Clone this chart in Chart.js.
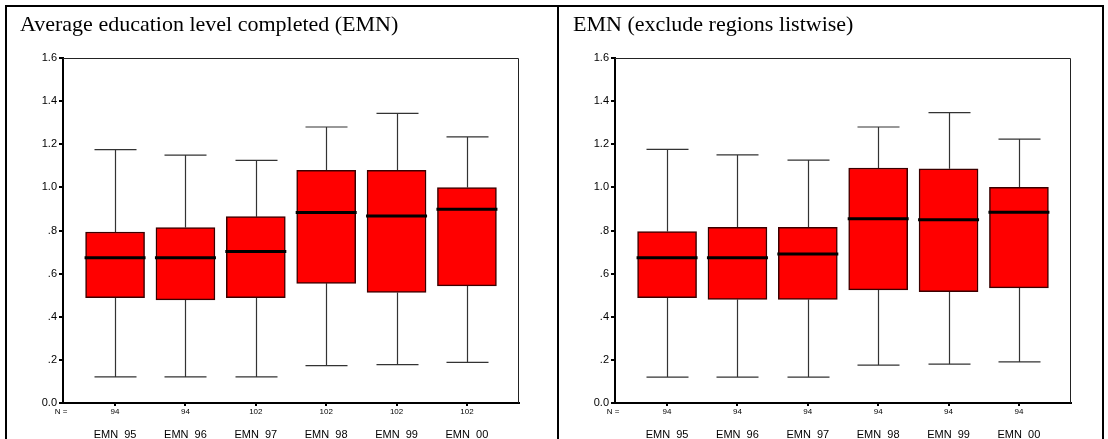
<!DOCTYPE html>
<html lang="en">
<head>
<meta charset="UTF-8">
<title>EMN boxplots</title>
<script src="https://cdn.jsdelivr.net/npm/chart.js"></script>
<style>
  html, body { margin: 0; padding: 0; background: #fff; overflow: hidden; }
  body { width: 1108px; height: 439px; position: relative; }
  .panel { position: absolute; top: 0; height: 439px; }
  .panel canvas { position: absolute; left: 0; top: 0; }
  .title { position: absolute; top: 13px; font: 22px "Liberation Serif", "Times New Roman", serif; line-height: 22px; color: #000; white-space: nowrap; }
  .rule { position: absolute; background: #000; }
</style>
</head>
<body>

<!-- two panels side by side, like the table cells in the original -->
<div class="panel" style="left:0; width:557px;"><canvas id="chartAll" width="557" height="439"></canvas></div>
<div class="panel" style="left:552px; width:556px;"><canvas id="chartListwise" width="556" height="439"></canvas></div>

<div class="title" style="left:20px;">Average education level completed (EMN)</div>
<div class="title" style="left:573px;">EMN (exclude regions listwise)</div>

<!-- table borders -->
<div class="rule" style="left:5px; top:5px; width:1098px; height:2px;"></div>
<div class="rule" style="left:5px; top:5px; width:2px; height:434px;"></div>
<div class="rule" style="left:557px; top:5px; width:2px; height:434px;"></div>
<div class="rule" style="left:1102px; top:5px; width:2px; height:434px;"></div>

<script>
// categories and tick labels
const categories = ['EMN_95', 'EMN_96', 'EMN_97', 'EMN_98', 'EMN_99', 'EMN_00'];
const yTicks = [0, 0.2, 0.4, 0.6, 0.8, 1.0, 1.2, 1.4, 1.6];
const yTickLabels = ['0.0', '.2', '.4', '.6', '.8', '1.0', '1.2', '1.4', '1.6'];

// left panel: all regions
const allN      = [94, 94, 102, 102, 102, 102];
const allMin    = [0.121, 0.121, 0.121, 0.173, 0.178, 0.188];
const allQ1     = [0.488, 0.478, 0.488, 0.555, 0.513, 0.543];
const allMedian = [0.674, 0.674, 0.703, 0.884, 0.867, 0.898];
const allQ3     = [0.793, 0.814, 0.864, 1.079, 1.079, 0.999];
const allMax    = [1.175, 1.150, 1.125, 1.280, 1.343, 1.234];

// right panel: regions excluded listwise
const lwN      = [94, 94, 94, 94, 94, 94];
const lwMin    = [0.120, 0.120, 0.120, 0.176, 0.180, 0.191];
const lwQ1     = [0.489, 0.480, 0.480, 0.525, 0.516, 0.534];
const lwMedian = [0.674, 0.674, 0.691, 0.855, 0.850, 0.885];
const lwQ3     = [0.795, 0.815, 0.815, 1.090, 1.086, 1.000];
const lwMax    = [1.176, 1.151, 1.126, 1.280, 1.347, 1.224];

const sans = '"Liberation Sans", Arial, sans-serif';

// whiskers, medians, plot frame and the "N =" label
function boxExtras(mins, medians, maxs, q1s, q3s) {
    return {
        id: 'boxExtras',
        beforeDatasetsDraw(chart) {
            const { ctx, chartArea: a, scales: { x, y } } = chart;
            ctx.save();
            // thin frame on top and right
            ctx.strokeStyle = '#222';
            ctx.lineWidth = 1;
            ctx.beginPath();
            ctx.moveTo(a.left, a.top + 0.5);
            ctx.lineTo(a.right - 0.5, a.top + 0.5);
            ctx.lineTo(a.right - 0.5, a.bottom);
            ctx.stroke();

            ctx.strokeStyle = '#333';
            ctx.lineWidth = 1.2;
            mins.forEach((lo, i) => {
                const cx = Math.round(x.getPixelForValue(i)) + 0.5;
                const yLo = y.getPixelForValue(lo);
                const yHi = y.getPixelForValue(maxs[i]);
                ctx.beginPath();
                ctx.moveTo(cx, yLo); ctx.lineTo(cx, y.getPixelForValue(q1s[i]));
                ctx.moveTo(cx, yHi); ctx.lineTo(cx, y.getPixelForValue(q3s[i]));
                ctx.moveTo(cx - 21, yLo); ctx.lineTo(cx + 21, yLo);
                ctx.moveTo(cx - 21, yHi); ctx.lineTo(cx + 21, yHi);
                ctx.stroke();
            });
            ctx.restore();
        },
        afterDatasetsDraw(chart) {
            const { ctx, chartArea: a, scales: { x, y } } = chart;
            ctx.save();
            ctx.strokeStyle = '#000';
            ctx.lineWidth = 3;
            medians.forEach((m, i) => {
                const cx = x.getPixelForValue(i);
                const my = y.getPixelForValue(m);
                ctx.beginPath();
                ctx.moveTo(cx - 30.5, my); ctx.lineTo(cx + 30.5, my);
                ctx.stroke();
            });
            ctx.fillStyle = '#000';
            ctx.font = '8px ' + sans;
            ctx.textAlign = 'center';
            ctx.textBaseline = 'middle';
            ctx.fillText('N =', a.left - 2, a.bottom + 9);
            ctx.restore();
        }
    };
}

function makeChart(id, n, mins, q1s, medians, q3s, maxs, padRight) {
    const ctx = document.getElementById(id).getContext('2d');
    return new Chart(ctx, {
        type: 'bar',
        data: {
            datasets: [{
                label: 'EMN',
                data: categories.map((c, i) => ({ x: i, y: [q1s[i], q3s[i]] })),
                backgroundColor: '#ff0000',
                borderColor: '#3a0000',
                borderWidth: 1.5,
                borderSkipped: false,
                barThickness: 59,
                xAxisID: 'x',
                yAxisID: 'y'
            }]
        },
        options: {
            responsive: false,
            animation: false,
            layout: { padding: { left: 0, top: 58, right: padRight, bottom: 0 } },
            plugins: { legend: { display: false }, tooltip: { enabled: false } },
            scales: {
                x: {
                    type: 'linear',
                    position: 'bottom',
                    weight: 0,
                    offset: false,
                    min: -0.74, max: 5.74,
                    afterBuildTicks: axis => { axis.ticks = categories.map((c, i) => ({ value: i })); },
                    afterFit: axis => { axis.height = 14; },
                    grid: { display: true, offset: false, drawOnChartArea: false, drawTicks: true, tickLength: 3, lineWidth: 2, color: '#000' },
                    border: { display: true, color: '#000', width: 2 },
                    ticks: {
                        autoSkip: false, maxRotation: 0, padding: 1,
                        color: '#000', font: { family: sans, size: 8 },
                        callback: v => n[v]
                    }
                },
                xl: {
                    type: 'linear',
                    position: 'bottom',
                    weight: 1,
                    offset: false,
                    min: -0.74, max: 5.74,
                    afterBuildTicks: axis => { axis.ticks = categories.map((c, i) => ({ value: i })); },
                    afterFit: axis => { axis.height = 22; },
                    grid: { display: false, offset: false },
                    border: { display: false },
                    ticks: {
                        autoSkip: false, maxRotation: 0, padding: 3,
                        color: '#000', font: { family: sans, size: 11 },
                        callback: v => categories[v]
                    }
                },
                y: {
                    type: 'linear',
                    min: 0, max: 1.6,
                    afterBuildTicks: axis => { axis.ticks = yTicks.map(v => ({ value: v })); },
                    afterFit: axis => { axis.width = 63; },
                    grid: { display: true, drawOnChartArea: false, drawTicks: true, tickLength: 4, lineWidth: 2, color: '#000' },
                    border: { display: true, color: '#000', width: 2 },
                    ticks: {
                        padding: 2, color: '#000', font: { family: sans, size: 11 },
                        callback: (v, i) => yTickLabels[i]
                    }
                }
            }
        },
        plugins: [boxExtras(mins, medians, maxs, q1s, q3s)]
    });
}

makeChart('chartAll', allN, allMin, allQ1, allMedian, allQ3, allMax, 38);
makeChart('chartListwise', lwN, lwMin, lwQ1, lwMedian, lwQ3, lwMax, 37);
</script>
</body>
</html>
